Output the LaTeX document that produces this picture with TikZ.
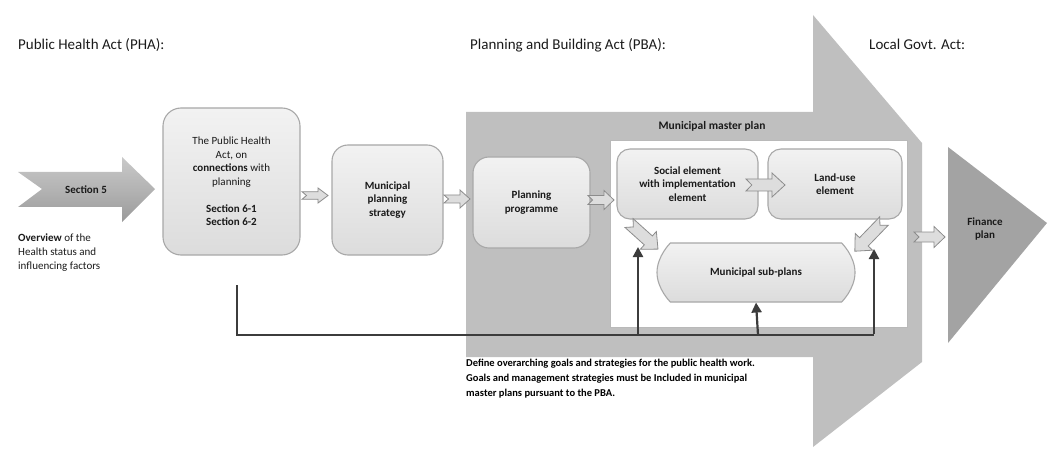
\documentclass[tikz,border=0pt]{standalone}
\usepackage{fontspec}
\setmainfont{Carlito}
\usetikzlibrary{arrows.meta,shapes.misc}
\definecolor{bigarrow}{HTML}{BFBFBF}
\definecolor{boxline}{HTML}{A8A8A8}
\definecolor{boxtop}{HTML}{F2F2F2}
\definecolor{boxbot}{HTML}{DCDCDC}
\definecolor{feed}{HTML}{3C3C3C}
\definecolor{finance}{HTML}{A3A3A3}
\definecolor{hollowfill}{HTML}{DDDDDD}
\definecolor{hollowline}{HTML}{8C8C8C}
\definecolor{txt}{HTML}{1A1A1A}
\definecolor{secA}{HTML}{C9C9C9}
\definecolor{secB}{HTML}{B3B3B3}
\definecolor{secC}{HTML}{9A9A9A}
\tikzset{
  heading/.style={anchor=base west,font=\fontsize{15}{18}\selectfont,text=txt,inner sep=0},
  stepbox/.style={draw=boxline,line width=1.1pt,rounded corners=16pt,top color=boxtop,bottom color=boxbot,
    align=center,inner sep=0,text=txt,font=\fontsize{11}{13.5}\selectfont\bfseries},
  hollow/.style={draw=hollowline,fill=hollowfill,line width=0.8pt,line join=miter},
  feedline/.style={draw=feed,line width=2.2pt},
  feedarrow/.style={feedline,-{Triangle[length=10pt,width=10pt]}},
}
% notched hollow arrow: x, y, rotation, length, body half-height, head half-height, head length
\newcommand\notcharrow[7]{%
  \begin{scope}[shift={(#1,#2)},rotate=#3]
    \draw[hollow] (0,-#5) -- ({#4-#7},-#5) -- ({#4-#7},-#6) -- (#4,0) -- ({#4-#7},#6) -- ({#4-#7},#5)
      -- (0,#5) -- ({0.45*#7},0) -- cycle;
  \end{scope}}
\begin{document}
\begin{tikzpicture}[x=1pt,y=-1pt]
\useasboundingbox (0,0) rectangle (1049,449);

% headings
\node[heading] (hpha) at (18,50) {Public Health Act (PHA):};
\node[heading] (hpba) at (470,50) {Planning and Building Act (PBA):};
\node[heading] (hlga) at (869,50) {Local Govt. Act:};

% large Planning and Building Act arrow
\fill[bigarrow] (466,112) -- (813,112) -- (813,15) -- (922,143) -- (922,362) -- (813,447)
  -- (813,357) -- (466,357) -- cycle;

% master plan frame
\draw[draw=boxline!80,line width=1pt,fill=white] (610,141) rectangle (907,327);
\node[font=\fontsize{11.5}{13}\selectfont\bfseries,text=txt] (mmp) at (712,126) {Municipal master plan};

% Section 5 arrow
\shade[top color=secA,bottom color=secC,middle color=secB]
  (18,172) -- (122,172) -- (122,157) -- (155,189) -- (122,222) -- (122,207) -- (18,207) -- (42,189) -- cycle;
\node[font=\fontsize{11}{13}\selectfont\bfseries,text=txt] (sec5) at (86,190) {Section 5};

\node[anchor=north west,align=left,inner sep=0,text=txt,font=\fontsize{11}{14}\selectfont] (overview) at (18,234)
  {\textbf{Overview} of the\\Health status and\\influencing factors};

% process boxes
\node[stepbox,font=\fontsize{11}{13.5}\selectfont,minimum width=137pt,minimum height=147pt,rounded corners=18pt] (pha) at (231.5,181.5)
  {The Public Health\\Act, on\\\textbf{connections} with\\planning\\[13.5pt]\textbf{Section 6-1}\\\textbf{Section 6-2}};
\node[stepbox,minimum width=111pt,minimum height=110pt] (mps) at (387.5,200) {Municipal\\planning\\strategy};
\node[stepbox,minimum width=117pt,minimum height=91pt] (pp) at (531.5,202.5) {Planning\\programme};
\node[stepbox,minimum width=141pt,minimum height=70pt,rounded corners=13pt] (soc) at (687.5,184)
  {Social element\\with implementation\\element};
\node[stepbox,minimum width=134pt,minimum height=70pt,rounded corners=13pt] (land) at (835,184) {Land-use\\element};
\node[stepbox,rounded rectangle,minimum width=198pt,minimum height=59pt] (sub) at (756,272.5) {Municipal sub-plans};

% finance plan
\fill[finance] (948,147) -- (1047,223) -- (948,343) -- cycle;
\node[font=\fontsize{11}{13.5}\selectfont\bfseries,text=txt,align=center] (fin) at (985,229) {Finance\\plan};

% hollow flow arrows
\notcharrow{302}{195.5}{0}{26}{3.8}{7.5}{10}
\notcharrow{444}{199}{0}{26}{4}{9}{10}
\notcharrow{588}{200}{0}{26}{4.5}{9.5}{10}
\notcharrow{746}{185}{0}{39}{6}{12}{13}
\notcharrow{629}{223}{-42}{39}{6}{12}{13}
\notcharrow{884}{221}{-134}{42}{6}{12}{13}
\notcharrow{914}{237}{0}{31}{5}{10.5}{11}

% goals feedback line
\coordinate (fbstart) at (237,285);
\coordinate (fbcorner) at (237,335);
\coordinate (fbend) at (874,335);
\coordinate (fbleft) at (638,335);
\coordinate (fbmid) at (758,335);
\coordinate (tipleft) at (638,247);
\coordinate (tipright) at (874,249);
\draw[feedline] (fbstart) -- (fbcorner) -- (fbend);
\draw[feedarrow] (fbleft) -- (tipleft);
\draw[feedarrow] (fbmid) -- (sub.south);
\draw[feedarrow] ([yshift=1.1pt]fbend) -- (tipright);

% goals text
\node[anchor=north west,align=left,inner sep=0,text=black,font=\fontsize{10.5}{15}\selectfont\bfseries] (goals) at (466,359)
  {Define overarching goals and strategies for the public health work.\\
   Goals and management strategies must be Included in municipal\\
   master plans pursuant to the PBA.};
\end{tikzpicture}
\end{document}
